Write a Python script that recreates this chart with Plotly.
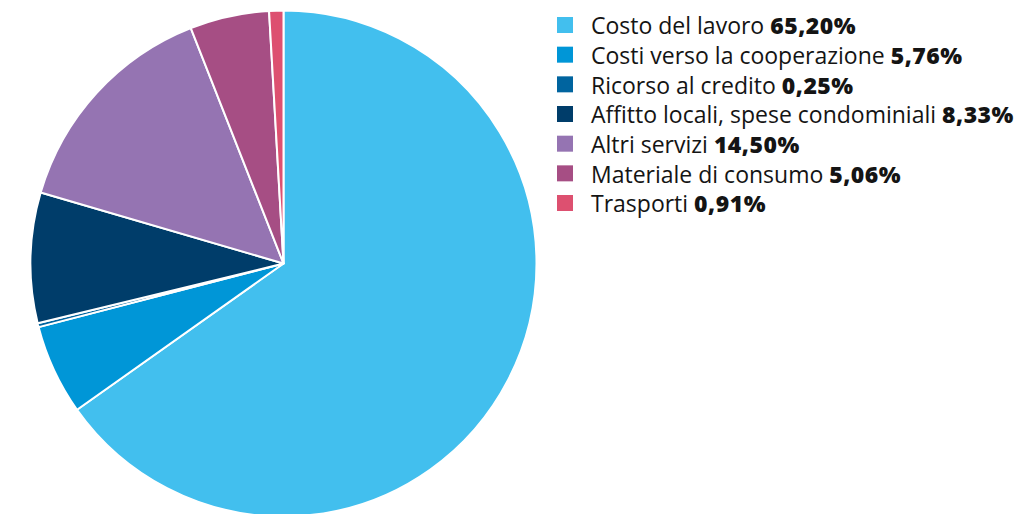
import plotly.graph_objects as go

categories = ["Costo del lavoro", "Costi verso la cooperazione", "Ricorso al credito",
              "Affitto locali, spese condominiali", "Altri servizi",
              "Materiale di consumo", "Trasporti"]
values = [65.20, 5.76, 0.25, 8.33, 14.50, 5.06, 0.91]
value_labels = ["65,20%", "5,76%", "0,25%", "8,33%", "14,50%", "5,06%", "0,91%"]
colors = ["#42BFEE", "#0096D7", "#00649F", "#003D6A", "#9574B2", "#A64E84", "#DD5070"]

W, H = 1025, 514
OFF = 8  # page body margin offset


def px(x):
    return (x - OFF) / W


def py(y):
    return 1 - (y - OFF) / H


cx, cy, r = 283.5, 263.5, 253
fig = go.Figure(go.Pie(
    labels=categories,
    values=values,
    sort=False,
    direction="clockwise",
    rotation=0,
    marker=dict(colors=colors, line=dict(color="white", width=2)),
    textinfo="none",
    hoverinfo="label+percent",
    showlegend=False,
    domain=dict(x=[px(cx - r), px(cx + r)], y=[py(cy + r), py(cy - r)]),
))

# custom legend
leg_sq_x0, sq = 557, 16
leg_text_x = 589
leg_y0, leg_dy = 25, 29.67
shapes, annotations = [], []
for i, (c, v, col) in enumerate(zip(categories, value_labels, colors)):
    yc = leg_y0 + i * leg_dy
    shapes.append(dict(type="rect", xref="paper", yref="paper",
                       x0=px(leg_sq_x0), x1=px(leg_sq_x0 + sq),
                       y0=py(yc + sq / 2), y1=py(yc - sq / 2),
                       fillcolor=col, line=dict(width=0)))
    annotations.append(dict(
        xref="paper", yref="paper", x=px(leg_text_x), y=py(yc + 0.3),
        xanchor="left", yanchor="middle", showarrow=False,
        text=f'{c} <span style="font-weight:800;letter-spacing:0.5px">{v}</span>',
        font=dict(family="Open Sans", size=23, color="#141414"),
    ))

fig.update_layout(
    width=W, height=H,
    margin=dict(l=0, r=0, t=0, b=0),
    paper_bgcolor="white",
    plot_bgcolor="white",
    shapes=shapes,
    annotations=annotations,
)

fig.write_html("out.html")
